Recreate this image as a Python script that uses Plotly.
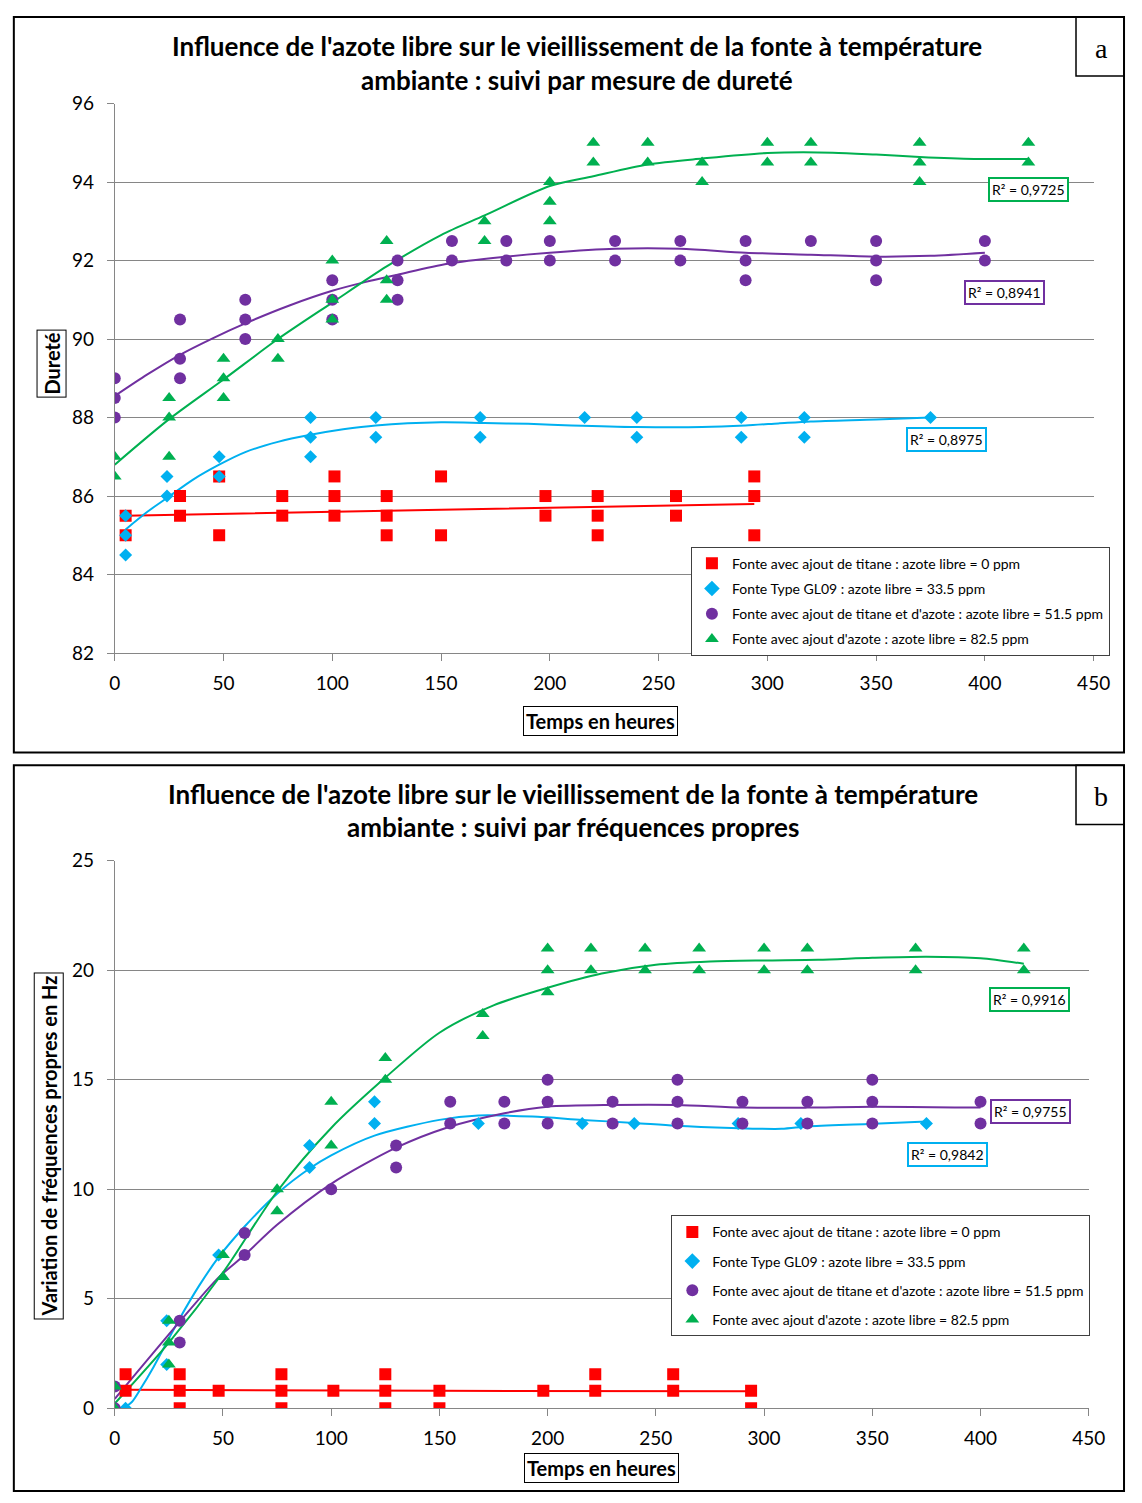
import plotly.graph_objects as go

W, H = 1142, 1503

# ---------------- Panel a : dureté ----------------
hours_ticks = [0, 50, 100, 150, 200, 250, 300, 350, 400, 450]

red_a_x = [5, 5, 30, 30, 48, 48, 77, 77, 101, 101, 101, 125, 125, 125, 150, 150, 198, 198, 222, 222, 222, 258, 258, 294, 294, 294]
red_a_y = [85.5, 85, 86, 85.5, 86.5, 85, 86, 85.5, 86.5, 86, 85.5, 86, 85.5, 85, 86.5, 85, 86, 85.5, 86, 85.5, 85, 86, 85.5, 86.5, 86, 85]

blue_a_x = [5, 5, 5, 24, 24, 48, 48, 90, 90, 90, 120, 120, 168, 168, 216, 240, 240, 288, 288, 317, 317, 375]
blue_a_y = [85.5, 85, 84.5, 86.5, 86, 87, 86.5, 88, 87.5, 87, 88, 87.5, 88, 87.5, 88, 88, 87.5, 88, 87.5, 88, 87.5, 88]

purple_a_x = [0, 0, 0, 30, 30, 30, 60, 60, 60, 100, 100, 100, 130, 130, 130, 155, 155, 180, 180, 200, 200, 230, 230, 260, 260, 290, 290, 290, 320, 350, 350, 350, 400, 400]
purple_a_y = [89, 88.5, 88, 90.5, 89.5, 89, 91, 90.5, 90, 91.5, 91, 90.5, 92, 91.5, 91, 92.5, 92, 92.5, 92, 92.5, 92, 92.5, 92, 92.5, 92, 92.5, 92, 91.5, 92.5, 92.5, 92, 91.5, 92.5, 92]

green_a_x = [0, 0, 25, 25, 25, 50, 50, 50, 75, 75, 100, 100, 100, 125, 125, 125, 170, 170, 200, 200, 200, 220, 220, 245, 245, 270, 270, 300, 300, 320, 320, 370, 370, 370, 420, 420]
green_a_y = [87, 86.5, 88.5, 88, 87, 89.5, 89, 88.5, 90, 89.5, 92, 91, 90.5, 92.5, 91.5, 91, 93, 92.5, 94, 93.5, 93, 95, 94.5, 95, 94.5, 94.5, 94, 95, 94.5, 95, 94.5, 95, 94.5, 94, 95, 94.5]

# trend curves
red_a_tx = [5, 150, 294]
red_a_ty = [85.5, 85.65, 85.8]
blue_a_tx = [5, 15, 24, 36, 48, 60, 75, 90, 105, 120, 150, 170, 190, 210, 240, 270, 290, 305, 320, 350, 375]
blue_a_ty = [85.15, 85.6, 85.95, 86.42, 86.8, 87.12, 87.38, 87.56, 87.7, 87.8, 87.88, 87.86, 87.84, 87.8, 87.76, 87.76, 87.8, 87.85, 87.9, 87.95, 88.0]
purple_a_tx = [0, 15, 30, 45, 60, 80, 100, 115, 130, 153, 180, 200, 230, 260, 290, 320, 350, 375, 400]
purple_a_ty = [88.55, 89.1, 89.6, 90.02, 90.4, 90.85, 91.23, 91.45, 91.64, 91.92, 92.1, 92.2, 92.3, 92.3, 92.2, 92.15, 92.1, 92.12, 92.2]
green_a_tx = [0, 25, 50, 75, 100, 125, 150, 170, 200, 220, 245, 270, 300, 330, 350, 370, 395, 420]
green_a_ty = [86.8, 87.96, 88.97, 90.0, 90.93, 91.85, 92.65, 93.15, 93.9, 94.15, 94.45, 94.6, 94.74, 94.75, 94.7, 94.64, 94.59, 94.59]

r2_a = ["R² = 0,9725", "R² = 0,8941", "R² = 0,8975"]

# ---------------- Panel b : fréquences ----------------
red_b_x = [5, 5, 30, 30, 30, 48, 77, 77, 77, 101, 125, 125, 125, 150, 150, 198, 222, 222, 258, 258, 294, 294]
red_b_y = [1.55, 0.8, 1.55, 0.8, 0, 0.8, 1.55, 0.8, 0, 0.8, 1.55, 0.8, 0, 0.8, 0, 0.8, 1.55, 0.8, 1.55, 0.8, 0.8, 0]

blue_b_x = [5, 24, 24, 48, 90, 90, 120, 120, 168, 216, 240, 288, 317, 375]
blue_b_y = [0, 4, 2, 7, 12, 11, 14, 13, 13, 13, 13, 13, 13, 13]

purple_b_x = [0, 0, 30, 30, 60, 60, 100, 130, 130, 155, 155, 180, 180, 200, 200, 200, 230, 230, 260, 260, 260, 290, 290, 320, 320, 350, 350, 350, 400, 400]
purple_b_y = [1, 0, 4, 3, 8, 7, 10, 12, 11, 14, 13, 14, 13, 15, 14, 13, 14, 13, 15, 14, 13, 14, 13, 14, 13, 15, 14, 13, 14, 13]

green_b_x = [0, 0, 25, 25, 25, 50, 50, 75, 75, 100, 100, 125, 125, 170, 170, 200, 200, 200, 220, 220, 245, 245, 270, 270, 300, 300, 320, 320, 370, 370, 420, 420]
green_b_y = [1, 0, 4, 3, 2, 7, 6, 10, 9, 14, 12, 16, 15, 18, 17, 21, 20, 19, 21, 20, 21, 20, 21, 20, 21, 20, 21, 20, 21, 20, 21, 20]

red_b_tx = [5, 150, 294]
red_b_ty = [0.85, 0.8, 0.78]
blue_b_tx = [4, 8, 12, 18, 24, 30, 39, 48, 60, 75, 90, 100, 120, 150, 168, 193, 216, 240, 259, 285, 308, 320, 348, 375]
blue_b_ty = [0, 0.3, 0.9, 1.9, 3.0, 4.1, 5.6, 6.9, 8.3, 9.8, 10.95, 11.55, 12.45, 13.17, 13.37, 13.32, 13.17, 13.03, 12.9, 12.8, 12.76, 12.87, 12.98, 13.1]
purple_b_tx = [0, 30, 48, 60, 75, 100, 130, 153, 180, 200, 230, 260, 290, 320, 350, 388, 400]
purple_b_ty = [0.43, 3.96, 5.98, 7.0, 8.38, 10.25, 11.9, 12.8, 13.47, 13.77, 13.85, 13.85, 13.73, 13.73, 13.77, 13.73, 13.73]
green_b_tx = [0, 25, 50, 75, 100, 125, 150, 175, 200, 225, 250, 275, 300, 325, 350, 375, 400, 420]
green_b_ty = [0.22, 3.0, 6.2, 9.9, 12.8, 15.1, 17.15, 18.4, 19.2, 19.85, 20.25, 20.4, 20.45, 20.48, 20.57, 20.62, 20.55, 20.3]

r2_b = ["R² = 0,9916", "R² = 0,9755", "R² = 0,9842"]

series_names = [
    "Fonte avec ajout de titane : azote libre = 0 ppm",
    "Fonte Type GL09 : azote libre = 33.5 ppm",
    "Fonte avec ajout de titane et d'azote : azote libre = 51.5 ppm",
    "Fonte avec ajout d'azote : azote libre = 82.5 ppm",
]
title_a = ["Influence de l'azote libre sur le vieillissement de la fonte à température",
           "ambiante : suivi par mesure de dureté"]
title_b = ["Influence de l'azote libre sur le vieillissement de la fonte à température",
           "ambiante : suivi par fréquences propres"]

RED, BLUE, PURPLE, GREEN = "#FF0000", "#00B0F0", "#7030A0", "#00B050"
colors = [RED, BLUE, PURPLE, GREEN]
symbols = ["square", "diamond", "circle", "triangle-up"]
sizes = [12, 10, 12, 12]
FONT = "Lato"
GRID = "#868686"


def px(x):
    return x / W


def py(y):
    return 1 - y / H


fig = go.Figure()

pts_a = [(red_a_x, red_a_y), (blue_a_x, blue_a_y), (purple_a_x, purple_a_y), (green_a_x, green_a_y)]
tr_a = [(red_a_tx, red_a_ty), (blue_a_tx, blue_a_ty), (purple_a_tx, purple_a_ty), (green_a_tx, green_a_ty)]
pts_b = [(red_b_x, red_b_y), (blue_b_x, blue_b_y), (purple_b_x, purple_b_y), (green_b_x, green_b_y)]
tr_b = [(red_b_tx, red_b_ty), (blue_b_tx, blue_b_ty), (purple_b_tx, purple_b_ty), (green_b_tx, green_b_ty)]

for panel, (pts, trs, xa, ya, leg) in enumerate([(pts_a, tr_a, "x", "y", "legend"),
                                                  (pts_b, tr_b, "x2", "y2", "legend2")]):
    for i in range(4):
        fig.add_trace(go.Scatter(x=trs[i][0], y=trs[i][1], mode="lines",
                                 line=dict(color=colors[i], width=2, shape="spline", smoothing=0.8),
                                 showlegend=False, hoverinfo="skip", xaxis=xa, yaxis=ya))
    for i in range(4):
        fig.add_trace(go.Scatter(x=pts[i][0], y=pts[i][1], mode="markers", name=series_names[i],
                                 marker=dict(color=colors[i], symbol=symbols[i], size=sizes[i],
                                             line=dict(width=0)),
                                 legend=leg, legendgroup=f"g{panel}{i}", xaxis=xa, yaxis=ya))

axis_common = dict(showline=True, linecolor=GRID, linewidth=1, ticks="outside", ticklen=7,
                   tickcolor=GRID, tickfont=dict(family=FONT, size=19, color="#000"), zeroline=False)

fig.update_layout(
    width=W, height=H, autosize=False, margin=dict(l=0, r=0, t=0, b=0),
    paper_bgcolor="white", plot_bgcolor="white",
    xaxis=dict(domain=[px(111), px(1110)], range=[0, 450], tickvals=hours_ticks, showgrid=False,
               anchor="y", ticklabelstandoff=6, **axis_common),
    yaxis=dict(domain=[py(651), py(93)], range=[82, 96], dtick=2, showgrid=True, gridcolor=GRID,
               gridwidth=1, anchor="x", ticklabelstandoff=9, **axis_common),
    xaxis2=dict(domain=[px(111), px(1105)], range=[0, 450], tickvals=hours_ticks, showgrid=False,
                anchor="y2", ticklabelstandoff=6, **axis_common),
    yaxis2=dict(domain=[py(1418), py(862)], range=[0, 25], dtick=5, showgrid=True, gridcolor=GRID,
                gridwidth=1, anchor="x2", ticklabelstandoff=9, **axis_common),
    legend=dict(x=px(699), y=py(543), xanchor="left", yanchor="top", bgcolor="white",
                bordercolor="#404040", borderwidth=1, font=dict(family=FONT, size=14, color="#000"),
                tracegroupgap=4, itemsizing="constant", itemwidth=30),
    legend2=dict(x=px(679), y=py(1222), xanchor="left", yanchor="top", bgcolor="white",
                 bordercolor="#404040", borderwidth=1, font=dict(family=FONT, size=14, color="#000"),
                 tracegroupgap=8, itemsizing="constant", itemwidth=30),
)

shapes = []
annotations = []


def note(text, x, y, **kw):
    d = dict(text=text, xref="paper", yref="paper", x=px(x), y=py(y), showarrow=False,
             xanchor="center", yanchor="middle")
    d.update(kw)
    annotations.append(d)


# outer frames and letter boxes
for (y0, y1, letter) in [(5, 752, "a"), (765, 1502, "b")]:
    shapes.append(dict(type="rect", xref="paper", yref="paper", x0=px(8), x1=px(1141),
                       y0=py(y1), y1=py(y0), line=dict(color="black", width=2)))
    shapes.append(dict(type="rect", xref="paper", yref="paper", x0=px(1092), x1=px(1141),
                       y0=py(y0 + 60), y1=py(y0), line=dict(color="black", width=1.5)))
    note(letter, 1118, y0 + 32, font=dict(family="Liberation Serif", size=28, color="black"))

# titles
for (t, cx, ys) in [(title_a, 583, (35, 69)), (title_b, 579, (794, 828))]:
    for line, yy in zip(t, ys):
        note(f"<b>{line}</b>", cx, yy, font=dict(family=FONT, size=26, color="black"))

# axis titles (boxed)
box_font = dict(family=FONT, size=20, color="black")
boxed = dict(font=box_font, bordercolor="black", borderwidth=1, borderpad=2, bgcolor="white")
note("<b>Temps en heures</b>", 607, 720, **boxed)
note("<b>Temps en heures</b>", 608, 1479, **boxed)
note("<b>Dureté</b>", 46, 357, textangle=-90, **boxed)
note("<b>Variation de fréquences propres en Hz</b>", 44, 1152, textangle=-90, **boxed)

# R² labels
r2_pos_a = [(1044, 180, GREEN), (1019, 285, PURPLE), (960, 434, BLUE)]
r2_pos_b = [(1045, 1003, GREEN), (1046, 1117, PURPLE), (961, 1160, BLUE)]
for txt, (cx, cy, c) in list(zip(r2_a, r2_pos_a)) + list(zip(r2_b, r2_pos_b)):
    note(txt, cx, cy, font=dict(family=FONT, size=14, color="#000"), bordercolor=c, borderwidth=2,
         borderpad=2, bgcolor="white")

fig.update_layout(shapes=shapes, annotations=annotations)
fig.write_html(
    "out.html",
    config={"displayModeBar": False},
    post_script="document.body.style.margin='0';document.body.style.overflow='hidden';",
)
